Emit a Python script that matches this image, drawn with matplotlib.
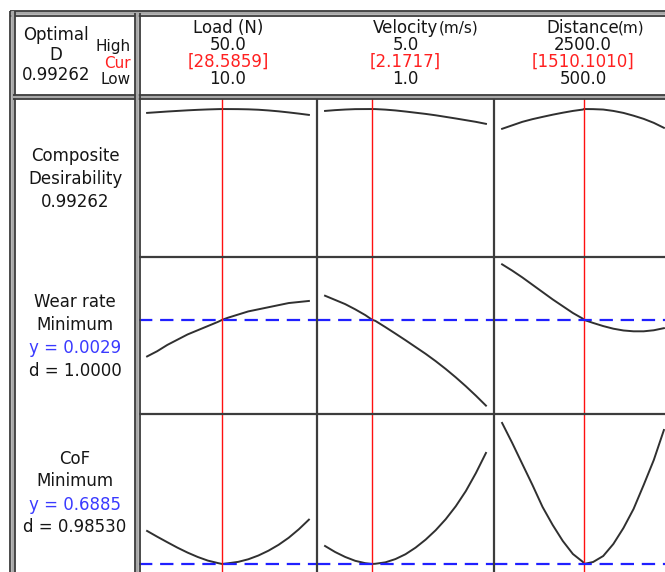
import matplotlib
matplotlib.use("Agg")
import matplotlib.pyplot as plt
from matplotlib.lines import Line2D
import numpy as np

W, H = 665, 572

# factor settings
factor_names = ["Load (N)", "Velocity", "Distance"]
factor_units = ["", "(m/s)", "(m)"]
factor_high = [50.0, 5.0, 2500.0]
factor_low = [10.0, 1.0, 500.0]
factor_cur = [28.5859, 2.1717, 1510.1010]

load_levels = [10, 12.5, 15, 17.5, 20, 22.5, 25, 27.5, 30, 32.5, 35, 37.5, 40, 42.5, 45, 47.5, 50]
velocity_levels = [1.0, 1.25, 1.5, 1.75, 2.0, 2.25, 2.5, 2.75, 3.0, 3.25, 3.5, 3.75, 4.0, 4.25, 4.5, 4.75, 5.0]
distance_levels = [500, 625, 750, 875, 1000, 1125, 1250, 1375, 1500, 1625, 1750, 1875, 2000, 2125, 2250, 2375, 2500]

# composite desirability traces
composite_D = 0.99262
comp_load = [0.9667, 0.9713, 0.9760, 0.9800, 0.9840, 0.9873, 0.9900, 0.9920, 0.9924,
             0.9920, 0.9907, 0.9880, 0.9833, 0.9773, 0.9700, 0.9620, 0.9533]
comp_vel = [0.9800, 0.9853, 0.9893, 0.9920, 0.9924, 0.9923, 0.9887, 0.9833, 0.9760,
            0.9680, 0.9600, 0.9507, 0.9400, 0.9293, 0.9180, 0.9067, 0.8933]
comp_dist = [0.8600, 0.8833, 0.9067, 0.9247, 0.9400, 0.9547, 0.9680, 0.9800, 0.9893,
             0.9920, 0.9893, 0.9800, 0.9667, 0.9480, 0.9267, 0.9000, 0.8667]

# wear rate traces
wear_y = 0.0029
wear_d = 1.0000
wear_load = [0.00255, 0.00260, 0.00266, 0.00271, 0.00276, 0.00280, 0.00284, 0.00288, 0.00292,
             0.00295, 0.00298, 0.00300, 0.00302, 0.00304, 0.00306, 0.00307, 0.00308]
wear_vel = [0.00313, 0.00309, 0.00305, 0.00300, 0.002945, 0.00289, 0.00283, 0.002768, 0.002705,
            0.00264, 0.002575, 0.002505, 0.00243, 0.00235, 0.002265, 0.002175, 0.00208]
wear_dist = [0.00343, 0.00337, 0.003305, 0.003235, 0.003165, 0.003095, 0.00303, 0.002965, 0.00291,
             0.00287, 0.00284, 0.002815, 0.002798, 0.00279, 0.00279, 0.00280, 0.00282]

# coefficient of friction traces
cof_y = 0.6885
cof_d = 0.98530
cof_load = [0.7166, 0.7117, 0.7070, 0.7024, 0.6982, 0.6945, 0.6914, 0.6893, 0.6891,
            0.6903, 0.6925, 0.6957, 0.6998, 0.7048, 0.7108, 0.7180, 0.7262]
cof_vel = [0.7038, 0.6987, 0.6945, 0.6912, 0.6892, 0.6887, 0.6899, 0.6927, 0.6968,
           0.7024, 0.7092, 0.7172, 0.7266, 0.7376, 0.7505, 0.7658, 0.7829]
cof_dist = [0.8084, 0.7914, 0.7735, 0.7557, 0.7370, 0.7217, 0.7081, 0.6970, 0.6902,
            0.6902, 0.6953, 0.7055, 0.7191, 0.7353, 0.7557, 0.7769, 0.8024]

DARK = "#161616"
BLUE = "#3a3aff"
RED = "#ff2020"
FRAME = "#3c3c3c"
FS = 12

# panel grid in pixels
col_x = [139, 317, 494, 672]
row_y = [99, 257, 414, 574]

fig = plt.figure(figsize=(W / 100, H / 100), dpi=100)
fig.patch.set_facecolor("white")


def fx(x):
    return x / W


def fy(y):
    return 1 - y / H


def hline(y, x0, x1, color=FRAME, lw=1.5):
    fig.add_artist(Line2D([fx(x0), fx(x1)], [fy(y), fy(y)], color=color, lw=lw,
                          transform=fig.transFigure, solid_capstyle="butt"))


def vline(x, y0, y1, color=FRAME, lw=1.5):
    fig.add_artist(Line2D([fx(x), fx(x)], [fy(y0), fy(y1)], color=color, lw=lw,
                          transform=fig.transFigure, solid_capstyle="butt"))


def text(x, y, s, color=DARK, size=FS, ha="center"):
    fig.text(fx(x), fy(y), s, color=color, fontsize=size, ha=ha, va="center",
             family="DejaVu Sans")


levels = [load_levels, velocity_levels, distance_levels]
rows = [
    dict(curves=[comp_load, comp_vel, comp_dist], target=composite_D, ylim=(0.0, 1.06), line=False),
    dict(curves=[wear_load, wear_vel, wear_dist], target=wear_y, ylim=(0.0020, 0.0035), line=True),
    dict(curves=[cof_load, cof_vel, cof_dist], target=cof_y, ylim=(0.680, 0.816), line=True),
]

for r, row in enumerate(rows):
    for c in range(3):
        x0, x1 = col_x[c], col_x[c + 1]
        y0, y1 = row_y[r], row_y[r + 1]
        ax = fig.add_axes([fx(x0), fy(y1), fx(x1 - x0), (y1 - y0) / H])
        lo, hi = factor_low[c], factor_high[c]
        pad = 0.05 * (hi - lo)
        ax.set_xlim(lo - pad, hi + pad)
        ax.set_ylim(*row["ylim"])
        ax.axis("off")

        # trace through the grid levels plus the current setting
        xs = list(levels[c]) + [factor_cur[c]]
        ys = list(row["curves"][c]) + [row["target"]]
        order = np.argsort(xs)
        ax.plot(np.array(xs)[order], np.array(ys)[order], color="#303030", lw=1.4)

        ax.axvline(factor_cur[c], color="#ff1010", lw=1.0)
        if row["line"]:
            ax.axhline(row["target"], color="#2020ff", lw=1.6, dashes=(6, 3.5))

# separators between panels
for x in col_x[1:3]:
    vline(x, row_y[0], H, lw=1.6)
for y in row_y[1:3]:
    hline(y, col_x[0], W, lw=1.6)


# double rules: outer frame and header / label dividers
def double_h(y, x0, x1):
    hline(y, x0, x1, color="#a8a8a8", lw=2.6)
    hline(y - 2.3, x0, x1, color=FRAME, lw=1.3)
    hline(y + 2.3, x0, x1, color=FRAME, lw=1.3)


def double_v(x, y0, y1):
    vline(x, y0, y1, color="#a8a8a8", lw=2.6)
    vline(x - 2.3, y0, y1, color=FRAME, lw=1.3)
    vline(x + 2.3, y0, y1, color=FRAME, lw=1.3)


double_h(13.2, 10, W)
double_v(12.5, 11, H)
double_h(97, 12.5, W)
double_v(137.3, 13, H)

# top-left header cell
text(56, 35, "Optimal")
text(56, 55, "D")
text(56, 75, f"{composite_D:.5f}")
text(131, 47, "High", size=11, ha="right")
text(131, 63, "Cur", color=RED, size=11, ha="right")
text(131, 80, "Low", size=11, ha="right")

# factor headers
for c in range(3):
    cx = (col_x[c] + col_x[c + 1]) / 2
    text(cx, 28, factor_names[c])
    if factor_units[c]:
        half = {"Velocity": 32, "Distance": 34}[factor_names[c]]
        text(cx + half + 1, 28, factor_units[c], size=11, ha="left")
    text(cx, 45, f"{factor_high[c]:.1f}")
    text(cx, 62, f"[{factor_cur[c]:.4f}]", color=RED)
    text(cx, 79, f"{factor_low[c]:.1f}")

# row labels
labels = [
    [("Composite", DARK), ("Desirability", DARK), (f"{composite_D:.5f}", DARK)],
    [("Wear rate", DARK), ("Minimum", DARK), (f"y = {wear_y:.4f}", BLUE), (f"d = {wear_d:.4f}", DARK)],
    [("CoF", DARK), ("Minimum", DARK), (f"y = {cof_y:.4f}", BLUE), (f"d = {cof_d:.5f}", DARK)],
]
for r, lines in enumerate(labels):
    cy = (row_y[r] + min(row_y[r + 1], H - 2)) / 2 + 1
    n = len(lines)
    for i, (s, col) in enumerate(lines):
        text(75, cy + (i - (n - 1) / 2) * 23, s, color=col)

fig.savefig("out.png", dpi=100, facecolor="white")
